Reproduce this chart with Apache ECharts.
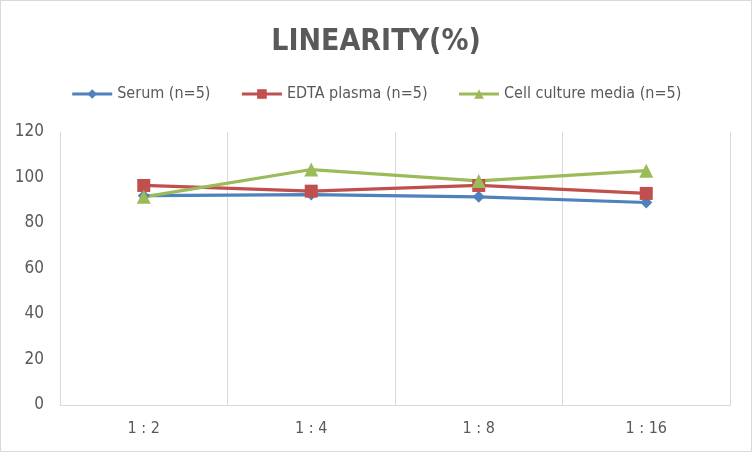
<!DOCTYPE html>
<html>
<head>
<meta charset="utf-8">
<script src="https://cdn.jsdelivr.net/npm/echarts@6/dist/echarts.min.js"></script>
<style>
  html, body { margin: 0; padding: 0; background: #fff; }
  #chart { width: 750px; height: 450px; border: 1px solid #d9d9d9; }
</style>
</head>
<body>
<div id="chart"></div>
<script>
// dilution steps on the x axis
const dilutions = ['1 : 2', '1 : 4', '1 : 8', '1 : 16']

// recovery (%) per sample type
const serum = [92, 92.5, 91.5, 89]
const edtaPlasma = [96.5, 94, 96.5, 93]
const cellMedia = [91.5, 103.5, 98.5, 103]

const yTicks = { min: 0, max: 120, interval: 20 }

const font = '"Liberation Sans Narrow", "DejaVu Sans Condensed", "Liberation Sans", sans-serif'

const chart = echarts.init(document.getElementById('chart'))

const makeSeries = (name, data, symbol, size, color) => ({
  name,
  type: 'line',
  data,
  symbol,
  symbolSize: size,
  showAllSymbol: true,
  lineStyle: { width: 3.2, color },
  itemStyle: { color },
  emphasis: { disabled: true }
})

chart.setOption({
  animation: false,
  title: {
    text: 'LINEARITY(%)',
    left: 'center',
    top: 21,
    textStyle: {
      fontFamily: font,
      fontSize: 30,
      fontWeight: 'bold',
      color: '#595959'
    }
  },
  legend: {
    top: 80,
    left: 'center',
    itemWidth: 40,
    itemHeight: 12,
    itemGap: 30,
    lineStyle: { width: 3 },
    textStyle: { fontFamily: font, fontSize: 16, color: '#595959' },
    data: ['Serum (n=5)', 'EDTA plasma (n=5)', 'Cell culture media (n=5)']
  },
  grid: { left: 59, right: 21, top: 131, bottom: 46, containLabel: false },
  xAxis: {
    type: 'category',
    data: dilutions,
    boundaryGap: true,
    axisLine: { lineStyle: { color: '#d9d9d9', width: 1 } },
    axisTick: { show: false },
    splitLine: { show: true, lineStyle: { color: '#d9d9d9', width: 1 } },
    axisLabel: { fontFamily: font, fontSize: 16, color: '#595959', margin: 16 }
  },
  yAxis: {
    type: 'value',
    min: yTicks.min,
    max: yTicks.max,
    interval: yTicks.interval,
    axisLine: { show: true, lineStyle: { color: '#d9d9d9', width: 1 } },
    axisTick: { show: false },
    splitLine: { show: false },
    axisLabel: { fontFamily: font, fontSize: 17, color: '#595959', margin: 16 }
  },
  series: [
    makeSeries('Serum (n=5)', serum, 'diamond', 12, '#4f81bd'),
    makeSeries('EDTA plasma (n=5)', edtaPlasma, 'rect', 13, '#c0504d'),
    makeSeries('Cell culture media (n=5)', cellMedia, 'triangle', 14, '#9bbb59')
  ]
})
</script>
</body>
</html>
